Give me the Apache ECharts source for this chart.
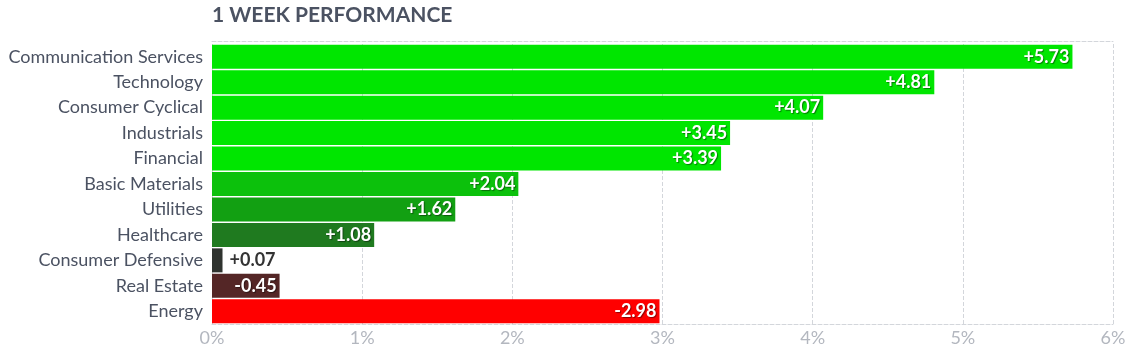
<!DOCTYPE html>
<html>
<head>
<meta charset="utf-8">
<script src="https://cdn.jsdelivr.net/npm/echarts@6/dist/echarts.min.js"></script>
<style>
html,body{margin:0;padding:0;background:#fff;}
#c{width:1134px;height:355px;}
</style>
</head>
<body>
<div id="c"></div>
<script>
const categories = ["Communication Services","Technology","Consumer Cyclical","Industrials","Financial","Basic Materials","Utilities","Healthcare","Consumer Defensive","Real Estate","Energy"];
const values = [5.73, 4.81, 4.07, 3.45, 3.39, 2.04, 1.62, 1.08, 0.07, -0.45, -2.98];
const barColors = ["#00e600","#00e600","#00e600","#00e600","#00e600","#0cc10c","#12a012","#1f7a1f","#2f332f","#542626","#ff0000"];
const xTicks = [0,1,2,3,4,5,6];
const titleText = "1 WEEK PERFORMANCE";

const chart = echarts.init(document.getElementById('c'), null, {renderer:'canvas'});
const fmt = v => (v >= 0 ? '+' : '') + v.toFixed(2);
const data = values.map((v,i) => {
  const outside = Math.abs(v) < 0.2;
  return {
    value: Math.abs(v),
    itemStyle: {color: barColors[i]},
    label: outside ? {
      position: 'right', distance: 7, color: '#333', textShadowBlur: 0, textShadowOffsetX: 0, textShadowOffsetY: 0, textShadowColor: 'transparent'
    } : {}
  };
});
chart.setOption({
  animation: false,
  title: {
    text: titleText, left: 212, top: 5, padding: 0,
    textStyle: {fontFamily: 'Lato', fontWeight: 'bold', fontSize: 21, color: '#4b5262'}
  },
  grid: {left: 212, right: 21, top: 44, bottom: 31},
  xAxis: [{
    type: 'value', min: 0, max: 6, interval: 1,
    axisLine: {show: true, lineStyle: {color: '#d3d6db', type: 'dashed'}},
    axisTick: {show: false},
    axisLabel: {formatter: v => v + '%', fontFamily: 'Lato', fontSize: 18, color: '#b3b7bf', margin: 5},
    splitLine: {show: true, lineStyle: {color: '#d3d6db', type: 'dashed'}}
  },{
    type: 'value', min: 0, max: 6, interval: 1, position: 'top', offset: 3,
    axisLine: {show: true, lineStyle: {color: '#d3d6db', type: 'dashed'}},
    axisTick: {show: false}, axisLabel: {show: false}, splitLine: {show: false}
  }],
  yAxis: {
    type: 'category', data: categories, inverse: true,
    axisLine: {show: false}, axisTick: {show: false},
    axisLabel: {fontFamily: 'Lato', fontSize: 18, color: '#4b5262', margin: 9}
  },
  series: [{
    type: 'bar', data: data, barWidth: 24, xAxisIndex: 0,
    label: {
      show: true, position: 'insideRight', distance: 3,
      formatter: p => fmt(values[p.dataIndex]),
      fontFamily: 'Lato', fontWeight: 'bold', fontSize: 18, color: '#fff',
      textShadowColor: 'rgba(0,0,0,0.45)', textShadowBlur: 1, textShadowOffsetX: 1, textShadowOffsetY: 1
    }
  }]
});
</script>
</body>
</html>
